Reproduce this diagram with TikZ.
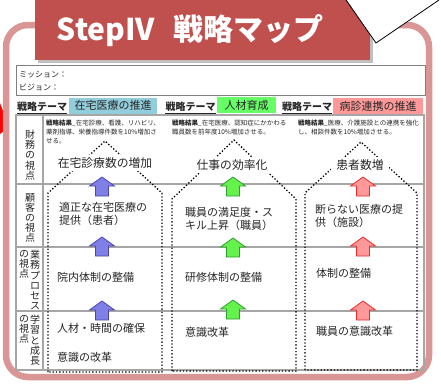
\documentclass[tikz,border=0pt]{standalone}
\usepackage{fontspec}
\setmainfont{Noto Sans CJK JP}
\definecolor{banner}{HTML}{C0504D}
\definecolor{pinkb}{HTML}{DA9694}
\definecolor{cyanb}{HTML}{92CDDC}
\definecolor{greenb}{HTML}{66FF66}
\definecolor{roseb}{HTML}{FF9999}
\definecolor{gridc}{HTML}{A6A6A6}
\definecolor{boxc}{HTML}{808080}
\definecolor{txt}{HTML}{262626}
\definecolor{blueA}{HTML}{7F7FE6}
\definecolor{blueAd}{HTML}{4747B0}
\definecolor{greenA}{HTML}{66F24D}
\definecolor{greenAd}{HTML}{2E9E2E}
\definecolor{redA}{HTML}{FF9999}
\definecolor{redAd}{HTML}{E62E2E}
\tikzset{
  uparrow/.pic={\path[pic actions] (0,0) -- (12.5,9) -- (6.5,9) -- (6.5,19) -- (-6.5,19) -- (-6.5,9) -- (-12.5,9) -- cycle;},
  gridl/.style={draw=gridc, line width=1.1pt},
  pent/.style={dotted, line width=1.3pt, black},
  headt/.style={fill=white, inner xsep=5pt, inner ysep=3pt, font=\fontsize{11.8}{14}\selectfont, text=txt},
  bodyt/.style={anchor=west, align=left, inner sep=0pt, font=\fontsize{11}{13.5}\selectfont, text=txt},
  smallt/.style={anchor=north west, align=left, inner sep=0pt, font=\fontsize{6.5}{9}\selectfont, text=txt},
  vlab/.style={anchor=north, align=center, inner sep=0pt, font=\fontsize{10}{10.2}\selectfont, text=txt},
  themet/.style={inner sep=0pt, font=\fontsize{10}{12}\selectfont\bfseries, text=txt},
  themebox/.style={inner sep=0pt, minimum height=16pt, font=\fontsize{11}{13}\selectfont, text=txt},
  arrB/.style={fill=blueA, draw=blueAd, line width=0.8pt},
  arrG/.style={fill=greenA, draw=greenAd, line width=0.8pt},
  arrR/.style={fill=redA, draw=redAd, line width=0.8pt},
}
\begin{document}
\begin{tikzpicture}[x=1pt,y=-1pt]
\useasboundingbox (0,0) rectangle (441,386);
\fill[white] (0,0) rectangle (441,386);
% red wedge at left
\fill[red] (0,103) -- (9,127) -- (0,134) -- cycle;
% pink frame
\draw[pinkb, line width=6.5pt, rounded corners=22pt] (6,25) rectangle (429,377);
% banner
\fill[black!25] (38,3) rectangle (373,63);
\fill[banner] (35,0) rectangle (370,60);
% callout pointer
\fill[white] (346,-1) -- (376,43) -- (441,-1) -- cycle;
\draw[black, line width=0.8pt] (346,0) -- (376,43) -- (439,0);
\node[font=\fontsize{30}{30}\selectfont\bfseries, text=white, inner sep=0pt] (title) at (190,31) {StepIV\hspace{18pt}戦略マップ};
% mission box
\node[draw=boxc, line width=0.9pt, minimum width=409pt, minimum height=30pt, anchor=north west, inner sep=0pt] (mission) at (16,65) {};
\node[anchor=west, inner sep=0pt, font=\fontsize{8}{9}\selectfont, text=txt] (mis) at (19,75) {ミッション：};
\node[anchor=west, inner sep=0pt, font=\fontsize{8}{9}\selectfont, text=txt] (vis) at (19,87) {ビジョン：};
% themes
\node[themet] (t1) at (42,107) {戦略テーマ};
\node[themet] (t2) at (190.5,107) {戦略テーマ};
\node[themet] (t3) at (307,107) {戦略テーマ};
\foreach \t in {t1,t2,t3} \draw[txt, line width=0.8pt] ([yshift=-1.5pt]\t.south west) -- ([yshift=-1.5pt]\t.south east);
\node[themebox, fill=cyanb, minimum width=88pt] (b1) at (113,105.5) {在宅医療の推進};
\node[themebox, fill=greenb, minimum width=59pt] (b2) at (246.5,105) {人材育成};
\node[themebox, fill=roseb, minimum width=90pt] (b3) at (378,106) {病診連携の推進};
% table grid
\draw[gridl] (16,115) rectangle (424,370);
\draw[gridl] (43,115) -- (43,370);
\draw[gridl] (16,184) -- (424,184);
\draw[gridl] (16,247) -- (424,247);
\draw[gridl] (16,311) -- (424,311);
% row labels
\node[vlab] (l1) at (30,130) {財\\務\\の\\視\\点};
\node[vlab] (l2) at (30,193) {顧\\客\\の\\視\\点};
\node[vlab] (l3a) at (35,250) {業\\務\\プ\\ロ\\セ\\ス};
\node[vlab] (l3b) at (24,250) {の\\視\\点};
\node[vlab] (l4a) at (35,315) {学\\習\\と\\成\\長};
\node[vlab] (l4b) at (24,315) {の\\視\\点};
% small result texts
\node[smallt] (r1) at (46,120) {\textbf{戦略結果}\_在宅診療、看護、リハビリ、\\薬剤指導、栄養指導件数を10\%増加さ\\せる。};
\node[smallt] (r2) at (172,120) {\textbf{戦略結果}\_在宅医療、認知症にかかわる\\職員数を前年度10\%増加させる。};
\node[smallt] (r3) at (298,120) {\textbf{戦略結果}\_医療、介護施設との連携を強化\\し、相談件数を10\%増加させる。};
% pentagons
\draw[pent] (48,372) -- (48,193) -- (105,141) -- (162,193) -- (162,372) -- cycle;
\draw[pent] (172,371) -- (172,199) -- (234,140) -- (296,199) -- (296,371) -- cycle;
\draw[pent] (305,370) -- (305,193) -- (361,142) -- (417,193) -- (417,370) -- cycle;
% headings
\node[headt] (h1) at (105,163) {在宅診療数の増加};
\node[headt] (h2) at (232,165) {仕事の効率化};
\node[headt] (h3) at (360,165) {患者数増};
% arrows
\pic[arrB] (a11) at (102,177) {uparrow};
\pic[arrB] (a12) at (102,237) {uparrow};
\pic[arrB] (a13) at (102,301) {uparrow};
\pic[arrG] (a21) at (233,177) {uparrow};
\pic[arrG] (a22) at (233,238) {uparrow};
\pic[arrG] (a23) at (233,300) {uparrow};
\pic[arrR] (a31) at (363,177) {uparrow};
\pic[arrR] (a32) at (363,237) {uparrow};
\pic[arrR] (a33) at (363,301) {uparrow};
% body texts
\node[bodyt] (c1a) at (59,214) {適正な在宅医療の\\提供（患者）};
\node[bodyt] (c1b) at (57,277) {院内体制の整備};
\node[bodyt] (c1c) at (57,328) {人材・時間の確保};
\node[bodyt] (c1d) at (57,357) {意識の改革};
\node[bodyt] (c2a) at (185,219) {職員の満足度・ス\\キル上昇（職員）};
\node[bodyt] (c2b) at (185,277) {研修体制の整備};
\node[bodyt] (c2c) at (185,332) {意識改革};
\node[bodyt] (c3a) at (315,216) {断らない医療の提\\供（施設）};
\node[bodyt] (c3b) at (316,273) {体制の整備};
\node[bodyt] (c3c) at (316,331) {職員の意識改革};
\end{tikzpicture}
\end{document}
